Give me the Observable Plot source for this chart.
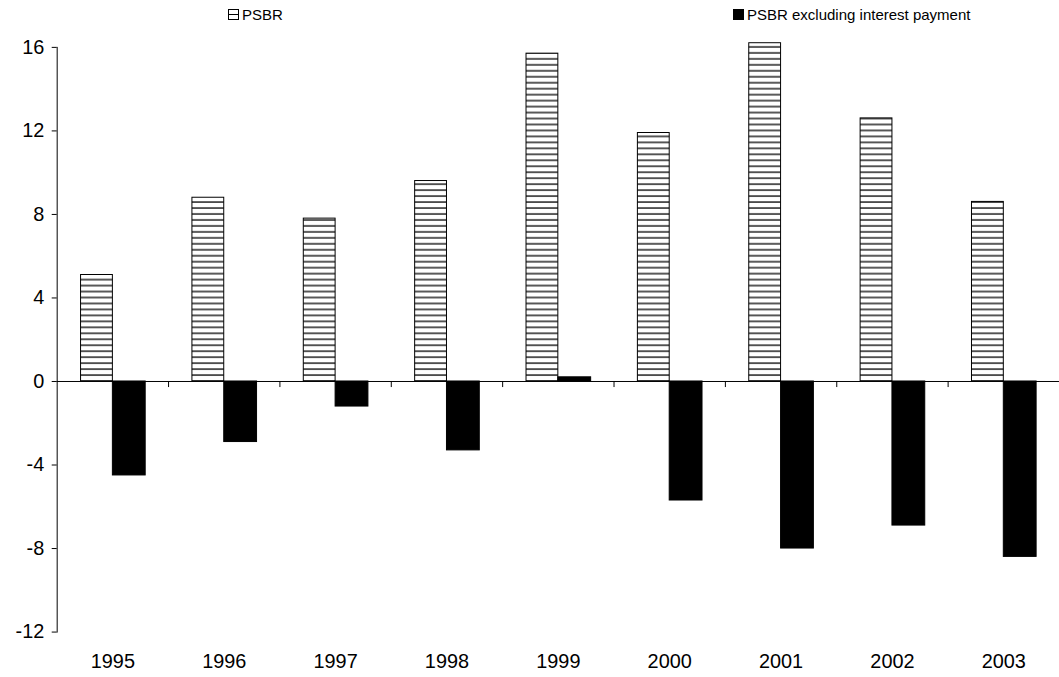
<!DOCTYPE html>
<html>
<head>
<meta charset="utf-8">
<script src="https://cdn.jsdelivr.net/npm/d3@7"></script>
<script src="https://cdn.jsdelivr.net/npm/@observablehq/plot@0.6"></script>
<style>
  html, body { margin: 0; padding: 0; background: #fff; overflow: hidden; }
  body { font-family: "Liberation Sans", Arial, sans-serif; }
  #legend { position: relative; height: 28px; width: 1059px; font-size: 15px; color: #000; }
  .item { position: absolute; top: 6px; display: flex; align-items: center; white-space: nowrap; }
  .item svg { margin-right: 3px; }
</style>
</head>
<body>
<div id="legend"></div>
<div id="chart"></div>
<script>
const years = ["1995", "1996", "1997", "1998", "1999", "2000", "2001", "2002", "2003"];
const psbr = [5.1, 8.8, 7.8, 9.6, 15.7, 11.9, 16.2, 12.6, 8.6];
const psbrExInterest = [-4.5, -2.9, -1.2, -3.3, 0.2, -5.7, -8.0, -6.9, -8.4];
const yTicks = [-12, -8, -4, 0, 4, 8, 12, 16];
const seriesNames = ["PSBR", "PSBR excluding interest payment"];

const rowsA = years.map((y, i) => ({year: y, value: psbr[i]}));
const rowsB = years.map((y, i) => ({year: y, value: psbrExInterest[i]}));

// legend
const legend = document.getElementById("legend");
const items = [
  {name: seriesNames[0], left: 228, icon: '<svg width="11" height="11"><rect x="0.5" y="0.5" width="10" height="10" fill="#fff" stroke="#000"/><line x1="0" x2="11" y1="5.5" y2="5.5" stroke="#000"/></svg>'},
  {name: seriesNames[1], left: 733, icon: '<svg width="11" height="11"><rect x="0" y="0" width="11" height="11" fill="#000"/></svg>'}
];
for (const it of items) {
  const d = document.createElement("div");
  d.className = "item";
  d.style.left = it.left + "px";
  d.innerHTML = it.icon + "<span>" + it.name + "</span>";
  legend.appendChild(d);
}

const plot = Plot.plot({
  width: 1065,
  height: 649,
  marginLeft: 57,
  marginRight: 0,
  marginTop: 19,
  marginBottom: 42,
  style: {fontFamily: "Liberation Sans, Arial, sans-serif", fontSize: "20px", color: "#000", background: "#fff", overflow: "visible"},
  x: {type: "band", domain: years, padding: 0},
  y: {domain: [-12, 16]},
  marks: [
    Plot.barY(rowsA, {x: "year", y: "value", fill: "url(#hatch)", stroke: "#000", strokeWidth: 1, insetLeft: 24, insetRight: 56}),
    Plot.barY(rowsB, {x: "year", y: "value", fill: "#000", stroke: "#000", strokeWidth: 1, insetLeft: 56, insetRight: 23}),
    Plot.ruleY([0], {stroke: "#000", strokeWidth: 1}),
    Plot.ruleX(years.slice(1), {x: d => d, y1: 0, y2: -0.29, stroke: "#000", dx: -56}),
    Plot.axisY({ticks: yTicks, tickSize: 5, tickPadding: 8, tickFormat: d => String(d), fontSize: 20, label: null}),
    Plot.frame({anchor: "left", stroke: "#000"}),
    Plot.axisX({tickSize: 0, tickPadding: 22, fontSize: 20, label: null})
  ]
});

// hatch pattern
const svg = d3.select(plot);
const defs = svg.insert("defs", ":first-child");
const pat = defs.append("pattern")
  .attr("id", "hatch")
  .attr("patternUnits", "userSpaceOnUse")
  .attr("width", 8).attr("height", 6);
pat.append("rect").attr("width", 8).attr("height", 6).attr("fill", "#fff");
pat.append("rect").attr("x", 0).attr("y", 0.4).attr("width", 8).attr("height", 1.3).attr("fill", "#000");

document.getElementById("chart").appendChild(plot);
</script>
</body>
</html>
